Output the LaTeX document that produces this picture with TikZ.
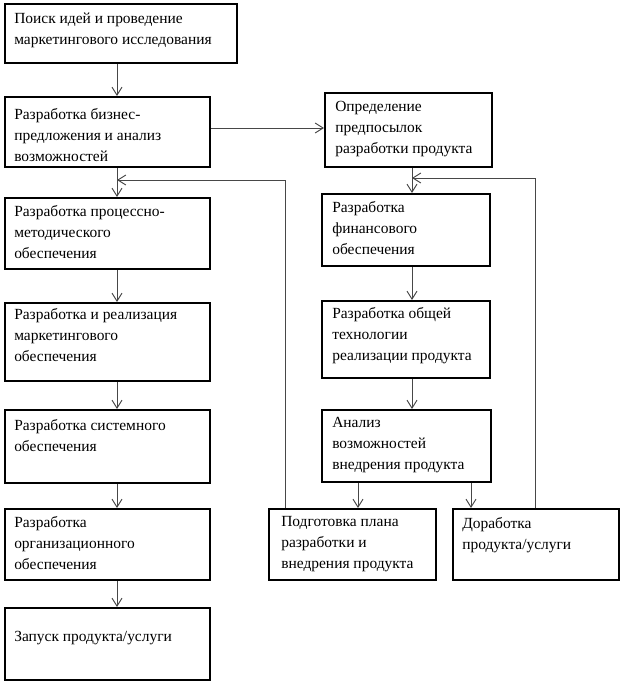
\documentclass[tikz,border=0pt]{standalone}
\usepackage{fontspec}
\setmainfont{Liberation Serif}
\usetikzlibrary{arrows.meta,fit,calc}
\begin{document}
\begin{tikzpicture}[x=0.75pt,y=-0.75pt,
  box/.style={draw=black,line width=1.5pt,inner sep=0pt},
  txt/.style={anchor=north west,inner sep=0pt,align=left,
    font=\fontsize{11.6}{15.75}\selectfont,execute at begin node=\strut},
  conn/.style={draw=black!72,line width=0.7pt,
    -{Straight Barb[length=6pt,width=7.5pt,line width=0.7pt]}},
  plain/.style={draw=black!72,line width=0.7pt}]
\useasboundingbox (0,0) rectangle (624,686);

% left column boxes
\node[box,fit={(5,4)(237,63)}] (b1) {};
\node[box,fit={(5,97)(210,167)}] (b2) {};
\node[box,fit={(5,198)(210,269)}] (b3) {};
\node[box,fit={(5,303)(210,381)}] (b4) {};
\node[box,fit={(5,410)(210,483)}] (b5) {};
\node[box,fit={(5,509)(210,580)}] (b6) {};
\node[box,fit={(5,608)(210,680)}] (b7) {};
% right column boxes
\node[box,fit={(325,93)(492,167)}] (r1) {};
\node[box,fit={(322,194)(490,266)}] (r2) {};
\node[box,fit={(322,301)(490,378)}] (r3) {};
\node[box,fit={(322,410)(491,482)}] (r4) {};
\node[box,fit={(269,509)(436,580)}] (prep) {};
\node[box,fit={(453,509)(619,580)}] (dor) {};

% texts
\node[txt] (t1) at ($(b1.north west)+(10,10)$) {Поиск идей и проведение\\маркетингового исследования};
\node[txt] (t2) at ($(b2.north west)+(10,12)$) {Разработка бизнес-\\предложения и анализ\\возможностей};
\node[txt] (t3) at ($(b3.north west)+(10,8)$) {Разработка процессно-\\методического\\обеспечения};
\node[txt] (t4) at ($(b4.north west)+(10,6)$) {Разработка и реализация\\маркетингового\\обеспечения};
\node[txt] (t5) at ($(b5.north west)+(10,10)$) {Разработка системного\\обеспечения};
\node[txt] (t6) at ($(b6.north west)+(10,8)$) {Разработка\\организационного\\обеспечения};
\node[txt] (t7) at ($(b7.north west)+(10,20)$) {Запуск продукта/услуги};
\node[txt] (tr1) at ($(r1.north west)+(11,9)$) {Определение\\предпосылок\\разработки продукта};
\node[txt] (tr2) at ($(r2.north west)+(11,8)$) {Разработка\\финансового\\обеспечения};
\node[txt] (tr3) at ($(r3.north west)+(11,7)$) {Разработка общей\\технологии\\реализации продукта};
\node[txt] (tr4) at ($(r4.north west)+(11,8)$) {Анализ\\возможностей\\внедрения продукта};
\node[txt] (tp) at ($(prep.north west)+(13,8)$) {Подготовка плана\\разработки и\\внедрения продукта};
\node[txt] (td) at ($(dor.north west)+(10,9)$) {Доработка\\продукта/услуги};

% reference coordinates
\coordinate (xl) at (117,0);
\coordinate (xr) at (412,0);
\coordinate (yh) at (0,128);
\coordinate (fbL) at (285,180);
\coordinate (fbR) at (535,178);
\coordinate (xp) at (358,0);
\coordinate (xd) at (471,0);

% left column connectors
\draw[conn] (b1.south -| xl) -- (b2.north -| xl);
\draw[conn] (b2.south -| xl) -- (b3.north -| xl);
\draw[conn] (b3.south -| xl) -- (b4.north -| xl);
\draw[conn] (b4.south -| xl) -- (b5.north -| xl);
\draw[conn] (b5.south -| xl) -- (b6.north -| xl);
\draw[conn] (b6.south -| xl) -- (b7.north -| xl);
% to right column
\draw[conn] (b2.east |- yh) -- (r1.west |- yh);
\draw[conn] (r1.south -| xr) -- (r2.north -| xr);
\draw[conn] (r2.south -| xr) -- (r3.north -| xr);
\draw[conn] (r3.south -| xr) -- (r4.north -| xr);
\draw[conn] (r4.south -| xp) -- (prep.north -| xp);
\draw[conn] (r4.south -| xd) -- (dor.north -| xd);
% feedback loops
\draw[conn] (prep.north -| fbL) -- (fbL) -- (xl |- fbL);
\draw[conn] (dor.north -| fbR) -- (fbR) -- (xr |- fbR);
\end{tikzpicture}
\end{document}
